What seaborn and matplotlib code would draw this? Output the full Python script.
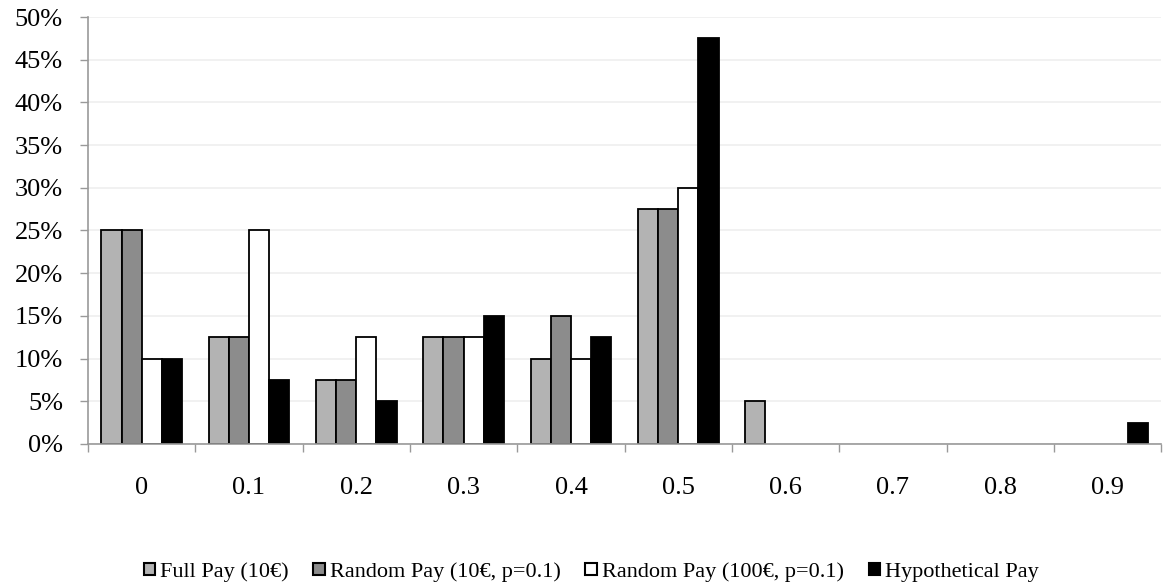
import pandas as pd
import seaborn as sns
import matplotlib.pyplot as plt
from matplotlib.patches import Patch
from matplotlib.ticker import PercentFormatter, FixedLocator

# data (percent of subjects)
categories = ["0", "0.1", "0.2", "0.3", "0.4", "0.5", "0.6", "0.7", "0.8", "0.9"]
full_pay = [25, 12.5, 7.5, 12.5, 10, 27.5, 5, 0, 0, 0]
random_10 = [25, 12.5, 7.5, 12.5, 15, 27.5, 0, 0, 0, 0]
random_100 = [10, 25, 12.5, 12.5, 10, 30, 0, 0, 0, 0]
hypothetical = [10, 7.5, 5, 15, 12.5, 47.5, 0, 0, 0, 2.5]

series = ["Full Pay (10€)", "Random Pay (10€, p=0.1)",
          "Random Pay (100€, p=0.1)", "Hypothetical Pay"]
colors = ["#b3b3b3", "#8c8c8c", "#ffffff", "#000000"]

df = pd.DataFrame({
    "share": full_pay + random_10 + random_100 + hypothetical,
    "cat": categories * 4,
    "series": [s for s in series for _ in categories],
})

sns.set_style("white")
plt.rcParams["font.family"] = ["Liberation Serif", "DejaVu Serif"]
plt.rcParams["text.color"] = "black"
plt.rcParams["xtick.color"] = "black"
plt.rcParams["ytick.color"] = "black"

fig = plt.figure(figsize=(11.64, 5.88), dpi=100)
ax = fig.add_axes([0.0756, 0.245, 0.922, 0.726])

sns.barplot(data=df, x="cat", y="share", hue="series", palette=colors,
            order=categories, hue_order=series, width=0.75, gap=0,
            edgecolor="black", linewidth=1.3, ax=ax, legend=False)

# hide empty bars so no edge line sits on the axis
for p in ax.patches:
    if p.get_height() == 0:
        p.set_visible(False)

ax.set_ylim(0, 50)
ax.set_xlim(-0.5, len(categories) - 0.5)
ax.yaxis.set_major_locator(FixedLocator(range(0, 51, 5)))
ax.yaxis.set_major_formatter(PercentFormatter(decimals=0))
ax.yaxis.grid(True, color="#efefef", linewidth=1.2)
ax.set_axisbelow(True)

ax.set_xlabel("")
ax.set_ylabel("")
ax.tick_params(axis="y", labelsize=19, length=6, width=1, color="#999999",
               left=True, pad=12)
ax.tick_params(axis="x", which="major", labelsize=19, length=0, pad=24)
ax.set_xticks([i - 0.5 for i in range(len(categories) + 1)], minor=True)
ax.tick_params(axis="x", which="minor", length=6, width=1, color="#999999",
               bottom=True)

for side in ["top", "right"]:
    ax.spines[side].set_visible(False)
for side in ["left", "bottom"]:
    ax.spines[side].set_color("#999999")
    ax.spines[side].set_linewidth(1.2)

handles = [Patch(facecolor=c, edgecolor="black", linewidth=1.5) for c in colors]
fig.legend(handles, series, loc="center", bbox_to_anchor=(0.508, 1 - 572 / 588),
           ncol=4, frameon=False, fontsize=16, handlelength=0.5,
           handleheight=0.5, handletextpad=0.25, columnspacing=1.1)

plt.savefig("out.png", dpi=100)
plt.close()
